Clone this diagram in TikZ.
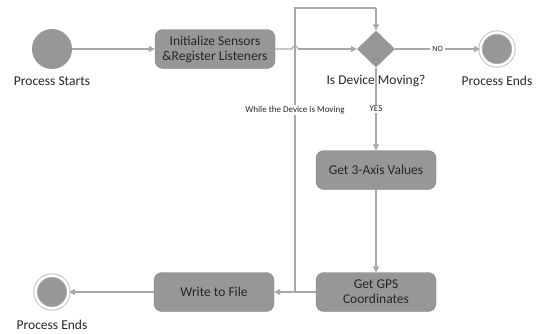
\documentclass[tikz,border=0pt]{standalone}
\usepackage{fontspec}
\setmainfont{Carlito}
\usetikzlibrary{arrows.meta,shapes.geometric}
\definecolor{nodegray}{HTML}{979797}
\definecolor{linegray}{HTML}{A8A8A8}
\definecolor{txt}{HTML}{262626}
\tikzset{
  actbox/.style={draw=nodegray!85!black, fill=nodegray, rounded corners=8pt, minimum width=120pt, minimum height=39pt, align=center, font=\fontsize{13.5}{15}\selectfont, text=txt, inner sep=0pt},
  flow/.style={draw=linegray, line width=1.1pt, -{Triangle[length=6pt,width=6pt]}},
  plain/.style={draw=linegray, line width=1.1pt},
  lbl/.style={font=\fontsize{13.5}{15}\selectfont, text=txt},
  small/.style={font=\fontsize{9}{10}\selectfont, text=txt, fill=white, inner sep=1pt},
  startc/.style={circle, fill=nodegray, minimum size=40pt, inner sep=0pt},
  endc/.style={circle, fill=nodegray, minimum size=33pt, inner sep=0pt, double=white, double distance=2.5pt, draw=nodegray!70, line width=0.8pt},
}
\begin{document}
\begin{tikzpicture}[x=1pt,y=-1pt]
\useasboundingbox[fill=white] (0,0) rectangle (540,333);
% nodes
\node[startc] (start) at (52,49) {};
\node[lbl] (startlbl) at (52,81) {Process Starts};
\node[actbox] (init) at (215,49) {Initialize Sensors\\\&Register Listeners};
\node[diamond, fill=nodegray, minimum width=38pt, minimum height=37pt, inner sep=0pt] (dec) at (376,49) {};
\node[endc] (end1) at (497,49) {};
\node[lbl] (end1lbl) at (497,81) {Process Ends};
\node[actbox] (axis) at (376,170) {Get 3-Axis Values};
\node[actbox] (gps) at (376,292) {Get GPS\\Coordinates};
\node[actbox] (write) at (214,292) {Write to File};
\node[endc] (end2) at (52,292) {};
\node[lbl] (end2lbl) at (52,325) {Process Ends};
% coordinates
\coordinate (h1) at (292,49);
\coordinate (h2) at (298,49);
\coordinate (lb) at (295,292);
\coordinate (lt) at (295,8);
\coordinate (rt) at (376,8);
% connectors
\draw[flow] (start) -- (init);
\draw[plain] (init.east) -- (h1) arc[start angle=180, end angle=0, radius=3pt];
\draw[flow] (h2) -- (dec.west);
\draw[flow] (dec.east) -- node[small, font=\fontsize{8}{9}\selectfont, inner sep=2pt]{NO} (end1);
\draw[flow] (dec.south) -- node[small, pos=0.5]{YES} (axis.north);
\draw[flow] (axis) -- (gps);
\draw[flow] (gps) -- (write);
\draw[flow] (write) -- (end2);
\draw[plain] (lb) -- (lt) -- (rt);
\draw[flow] (rt) -- (dec.north);
\node[small] (whilelbl) at (295,110) {While the Device is Moving};
\node[lbl] (declbl) at (376,81) {Is Device Moving?};
\end{tikzpicture}
\end{document}
